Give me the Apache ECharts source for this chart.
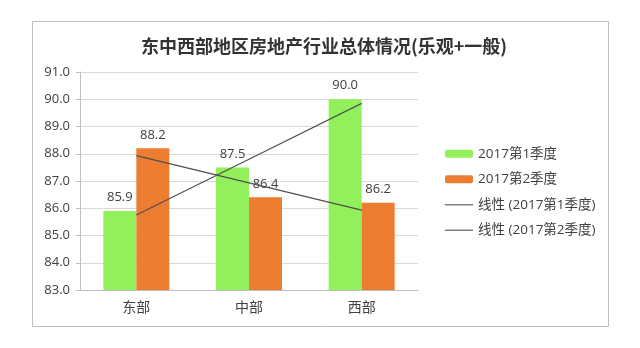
<!DOCTYPE html>
<html><head><meta charset="utf-8">
<script src="https://cdn.jsdelivr.net/npm/echarts@6/dist/echarts.min.js"></script>
<style>html,body{margin:0;padding:0;background:#fff}#c{width:640px;height:348px}</style>
</head><body><div id="c"></div>
<script>
const title = '东中西部地区房地产行业总体情况(乐观+一般)';
const categories = ['东部', '中部', '西部'];
const seriesNames = ['2017第1季度', '2017第2季度'];
const q1 = [85.9, 87.5, 90.0];
const q2 = [88.2, 86.4, 86.2];
const trendNames = ['线性 (2017第1季度)', '线性 (2017第2季度)'];
const trendQ1 = [85.75, 87.8, 89.85];
const trendQ2 = [87.93, 86.93, 85.93];

const chart = echarts.init(document.getElementById('c'));
const font = '"Open Sans", "Noto Sans CJK SC", sans-serif';
chart.setOption({
  animation: false,
  backgroundColor: '#fff',
  graphic: [{type:'rect', shape:{x:32.5, y:21.5, width:576, height:305}, style:{fill:'none', stroke:'#bfbfbf', lineWidth:1}}],
  title: {text: title, left: 319, top: 32, textAlign: 'center',
    textStyle: {fontFamily: '"Noto Sans CJK SC"', fontSize: 18, fontWeight: 'bold', color: '#333'}},
  grid: {left: 80, right: 222, top: 72, bottom: 58, containLabel: false},
  legend: {
    orient: 'vertical', left: 440, top: 142, itemGap: 12, itemWidth: 28, itemHeight: 8,
    textStyle: {fontFamily: font, fontSize: 13.5, color: '#404040'},
    data: [
      {name: seriesNames[0]}, {name: seriesNames[1]},
      {name: trendNames[0], icon: 'path://M0,0H28V1.5H0Z', itemStyle:{color:'#7f7f7f'}},
      {name: trendNames[1], icon: 'path://M0,0H28V1.5H0Z', itemStyle:{color:'#7f7f7f'}}
    ]
  },
  xAxis: [{
    type: 'category', data: categories,
    axisLine: {lineStyle: {color: '#bfbfbf'}}, axisTick: {show: false},
    axisLabel: {fontFamily: font, fontSize: 14, color: '#404040', margin: 11}
  }, {
    type: 'value', min: 0, max: 3, show: false
  }],
  yAxis: {
    type: 'value', min: 83, max: 91, interval: 1,
    axisLine: {show: true, lineStyle: {color: '#bfbfbf'}},
    axisTick: {show: true, length: 4, lineStyle: {color: '#bfbfbf'}},
    splitLine: {lineStyle: {color: '#d9d9d9'}},
    axisLabel: {fontFamily: font, fontSize: 13, color: '#404040', margin: 10, formatter: v => v.toFixed(1)}
  },
  series: [
    {name: seriesNames[0], type: 'bar', data: q1, barWidth: 33, barGap: '0%',
     itemStyle: {color: '#92f05a'},
     label: {show: true, position: 'top', distance: 7, fontFamily: font, fontSize: 13, color: '#404040', formatter: p => p.value.toFixed(1)}},
    {name: seriesNames[1], type: 'bar', data: q2, barWidth: 33,
     itemStyle: {color: '#ed7d31'},
     label: {show: true, position: 'top', distance: 7, fontFamily: font, fontSize: 13, color: '#404040', formatter: p => p.value.toFixed(1)}},
    {name: trendNames[0], type: 'line', xAxisIndex: 1, data: trendQ1.map((v,i)=>[i+0.5, v]),
     symbol: 'none', lineStyle: {color: '#505050', width: 1.2}, itemStyle:{color:'#7f7f7f'}, z: 5},
    {name: trendNames[1], type: 'line', xAxisIndex: 1, data: trendQ2.map((v,i)=>[i+0.5, v]),
     symbol: 'none', lineStyle: {color: '#505050', width: 1.2}, itemStyle:{color:'#7f7f7f'}, z: 5}
  ]
});
</script></body></html>
